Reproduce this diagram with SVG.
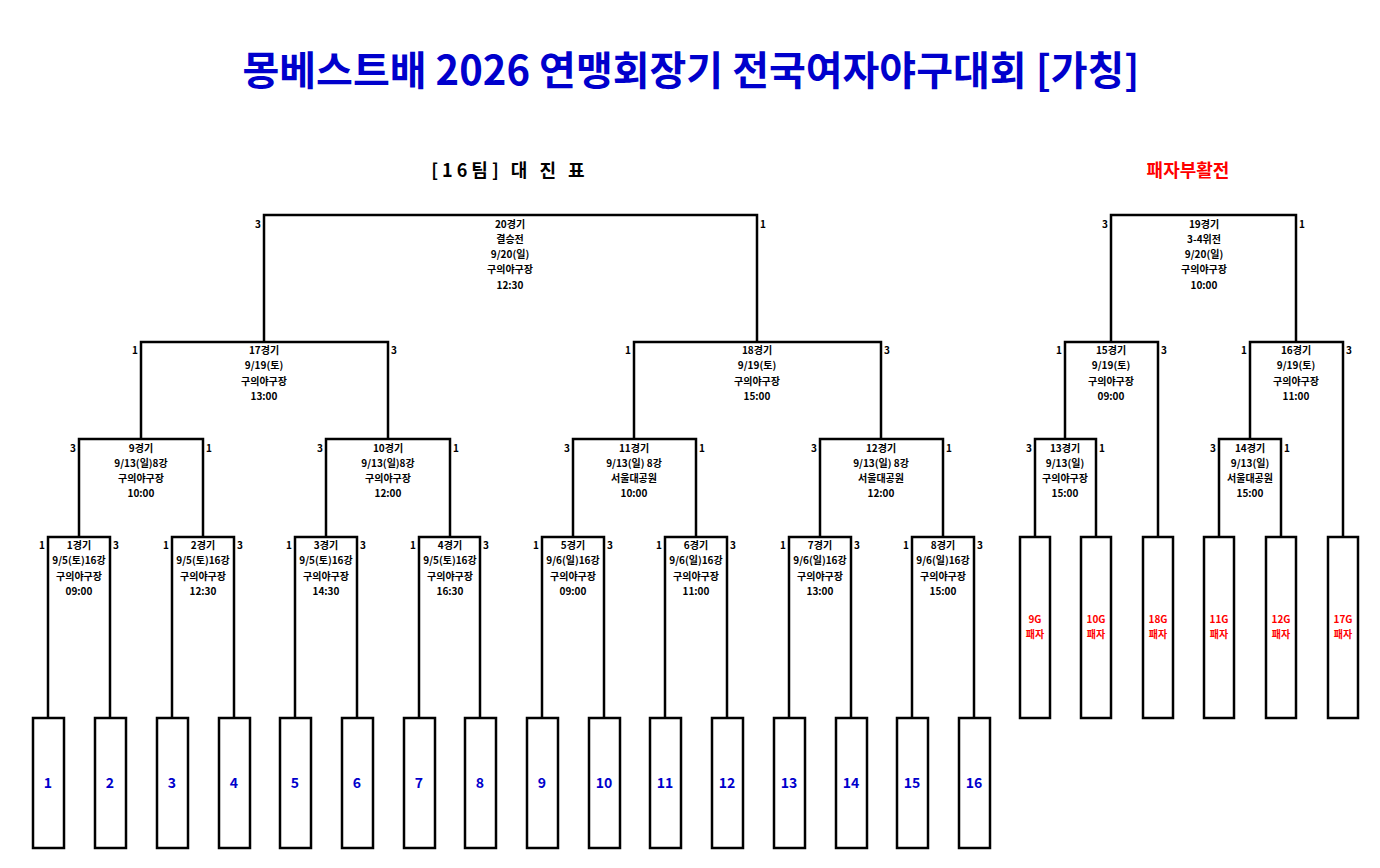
<svg xmlns="http://www.w3.org/2000/svg" width="1380" height="868" viewBox="0 0 1380 868">
<style>
text{font-family:"Noto Sans CJK KR","Noto Sans",sans-serif;font-weight:bold}
.m{font-size:10px;text-anchor:middle;fill:#000}
.s{font-size:10px;fill:#000}
.e{text-anchor:end}
.ln{fill:none;stroke:#000;stroke-width:2.5}
.bx{fill:#fff;stroke:#000;stroke-width:2.5}
.t{font-size:14px;fill:#0000cc;text-anchor:middle}
.r{font-size:10px;fill:#ff0000;text-anchor:middle}
</style>
<rect width="1380" height="868" fill="#fff"/>
<text x="691" y="85" font-size="40" font-weight="900" fill="#0000cc" text-anchor="middle">몽베스트배 2026 연맹회장기 전국여자야구대회 [가칭]</text>
<text x="510" y="177" font-size="18" text-anchor="middle" letter-spacing="4">[16팀] 대 진 표</text>
<text x="1188" y="177" font-size="18" fill="#ff0000" text-anchor="middle">패자부활전</text>
<g id="connectors" class="ln">
<path d="M48 718V537H110V718M172 718V537H234V718M295 718V537H357V718M419 718V537H480V718M542 718V537H604V718M665 718V537H727V718M789 718V537H851V718M912 718V537H974V718"/>
<path d="M79 537V439H203V537M326 537V439H450V537M573 537V439H696V537M820 537V439H943V537"/>
<path d="M141 439V342H388V439M634 439V342H881V439"/>
<path d="M264 342V215H757V342"/>
<path d="M1035 537V439H1096V537M1219 537V439H1281V537"/>
<path d="M1065 439V342H1158V537M1250 439V342H1343V537"/>
<path d="M1111 342V215H1296V342"/>
</g>
<g id="teams">
<rect class="bx" x="33" y="718" width="31" height="130"/><text class="t" x="48" y="788">1</text>
<rect class="bx" x="95" y="718" width="31" height="130"/><text class="t" x="110" y="788">2</text>
<rect class="bx" x="157" y="718" width="31" height="130"/><text class="t" x="172" y="788">3</text>
<rect class="bx" x="219" y="718" width="31" height="130"/><text class="t" x="234" y="788">4</text>
<rect class="bx" x="280" y="718" width="31" height="130"/><text class="t" x="295" y="788">5</text>
<rect class="bx" x="342" y="718" width="31" height="130"/><text class="t" x="357" y="788">6</text>
<rect class="bx" x="404" y="718" width="31" height="130"/><text class="t" x="419" y="788">7</text>
<rect class="bx" x="465" y="718" width="31" height="130"/><text class="t" x="480" y="788">8</text>
<rect class="bx" x="527" y="718" width="31" height="130"/><text class="t" x="542" y="788">9</text>
<rect class="bx" x="589" y="718" width="31" height="130"/><text class="t" x="604" y="788">10</text>
<rect class="bx" x="650" y="718" width="31" height="130"/><text class="t" x="665" y="788">11</text>
<rect class="bx" x="712" y="718" width="31" height="130"/><text class="t" x="727" y="788">12</text>
<rect class="bx" x="774" y="718" width="31" height="130"/><text class="t" x="789" y="788">13</text>
<rect class="bx" x="836" y="718" width="31" height="130"/><text class="t" x="851" y="788">14</text>
<rect class="bx" x="897" y="718" width="31" height="130"/><text class="t" x="912" y="788">15</text>
<rect class="bx" x="959" y="718" width="31" height="130"/><text class="t" x="974" y="788">16</text>
</g>
<g id="losers">
<rect class="bx" x="1020" y="537" width="30" height="181"/><text class="r" x="1035" y="623">9G</text><text class="r" x="1035" y="638">패자</text>
<rect class="bx" x="1081" y="537" width="30" height="181"/><text class="r" x="1096" y="623">10G</text><text class="r" x="1096" y="638">패자</text>
<rect class="bx" x="1143" y="537" width="30" height="181"/><text class="r" x="1158" y="623">18G</text><text class="r" x="1158" y="638">패자</text>
<rect class="bx" x="1204" y="537" width="30" height="181"/><text class="r" x="1219" y="623">11G</text><text class="r" x="1219" y="638">패자</text>
<rect class="bx" x="1266" y="537" width="30" height="181"/><text class="r" x="1281" y="623">12G</text><text class="r" x="1281" y="638">패자</text>
<rect class="bx" x="1328" y="537" width="30" height="181"/><text class="r" x="1343" y="623">17G</text><text class="r" x="1343" y="638">패자</text>
</g>
<g id="m1"><text class="s e" x="45" y="549">1</text><text class="s" x="113" y="549">3</text><text class="m" x="79" y="549">1경기</text><text class="m" x="79" y="564">9/5(토)16강</text><text class="m" x="79" y="580">구의야구장</text><text class="m" x="79" y="595">09:00</text></g>
<g id="m2"><text class="s e" x="169" y="549">1</text><text class="s" x="237" y="549">3</text><text class="m" x="203" y="549">2경기</text><text class="m" x="203" y="564">9/5(토)16강</text><text class="m" x="203" y="580">구의야구장</text><text class="m" x="203" y="595">12:30</text></g>
<g id="m3"><text class="s e" x="292" y="549">1</text><text class="s" x="360" y="549">3</text><text class="m" x="326" y="549">3경기</text><text class="m" x="326" y="564">9/5(토)16강</text><text class="m" x="326" y="580">구의야구장</text><text class="m" x="326" y="595">14:30</text></g>
<g id="m4"><text class="s e" x="416" y="549">1</text><text class="s" x="483" y="549">3</text><text class="m" x="450" y="549">4경기</text><text class="m" x="450" y="564">9/5(토)16강</text><text class="m" x="450" y="580">구의야구장</text><text class="m" x="450" y="595">16:30</text></g>
<g id="m5"><text class="s e" x="539" y="549">1</text><text class="s" x="607" y="549">3</text><text class="m" x="573" y="549">5경기</text><text class="m" x="573" y="564">9/6(일)16강</text><text class="m" x="573" y="580">구의야구장</text><text class="m" x="573" y="595">09:00</text></g>
<g id="m6"><text class="s e" x="662" y="549">1</text><text class="s" x="730" y="549">3</text><text class="m" x="696" y="549">6경기</text><text class="m" x="696" y="564">9/6(일)16강</text><text class="m" x="696" y="580">구의야구장</text><text class="m" x="696" y="595">11:00</text></g>
<g id="m7"><text class="s e" x="786" y="549">1</text><text class="s" x="854" y="549">3</text><text class="m" x="820" y="549">7경기</text><text class="m" x="820" y="564">9/6(일)16강</text><text class="m" x="820" y="580">구의야구장</text><text class="m" x="820" y="595">13:00</text></g>
<g id="m8"><text class="s e" x="909" y="549">1</text><text class="s" x="977" y="549">3</text><text class="m" x="943" y="549">8경기</text><text class="m" x="943" y="564">9/6(일)16강</text><text class="m" x="943" y="580">구의야구장</text><text class="m" x="943" y="595">15:00</text></g>
<g id="m9"><text class="s e" x="76" y="452">3</text><text class="s" x="206" y="452">1</text><text class="m" x="141" y="452">9경기</text><text class="m" x="141" y="467">9/13(일)8강</text><text class="m" x="141" y="482">구의야구장</text><text class="m" x="141" y="497">10:00</text></g>
<g id="m10"><text class="s e" x="323" y="452">3</text><text class="s" x="453" y="452">1</text><text class="m" x="388" y="452">10경기</text><text class="m" x="388" y="467">9/13(일)8강</text><text class="m" x="388" y="482">구의야구장</text><text class="m" x="388" y="497">12:00</text></g>
<g id="m11"><text class="s e" x="570" y="452">3</text><text class="s" x="699" y="452">1</text><text class="m" x="634" y="452">11경기</text><text class="m" x="634" y="467">9/13(일) 8강</text><text class="m" x="634" y="482">서울대공원</text><text class="m" x="634" y="497">10:00</text></g>
<g id="m12"><text class="s e" x="817" y="452">3</text><text class="s" x="946" y="452">1</text><text class="m" x="881" y="452">12경기</text><text class="m" x="881" y="467">9/13(일) 8강</text><text class="m" x="881" y="482">서울대공원</text><text class="m" x="881" y="497">12:00</text></g>
<g id="m17"><text class="s e" x="138" y="354">1</text><text class="s" x="391" y="354">3</text><text class="m" x="264" y="354">17경기</text><text class="m" x="264" y="369">9/19(토)</text><text class="m" x="264" y="385">구의야구장</text><text class="m" x="264" y="400">13:00</text></g>
<g id="m18"><text class="s e" x="631" y="354">1</text><text class="s" x="884" y="354">3</text><text class="m" x="757" y="354">18경기</text><text class="m" x="757" y="369">9/19(토)</text><text class="m" x="757" y="385">구의야구장</text><text class="m" x="757" y="400">15:00</text></g>
<g id="m20"><text class="s e" x="261" y="228">3</text><text class="s" x="760" y="228">1</text><text class="m" x="510" y="228">20경기</text><text class="m" x="510" y="243">결승전</text><text class="m" x="510" y="258">9/20(일)</text><text class="m" x="510" y="273">구의야구장</text><text class="m" x="510" y="289">12:30</text></g>
<g id="m13"><text class="s e" x="1032" y="452">3</text><text class="s" x="1099" y="452">1</text><text class="m" x="1065" y="452">13경기</text><text class="m" x="1065" y="467">9/13(일)</text><text class="m" x="1065" y="482">구의야구장</text><text class="m" x="1065" y="497">15:00</text></g>
<g id="m14"><text class="s e" x="1216" y="452">3</text><text class="s" x="1284" y="452">1</text><text class="m" x="1250" y="452">14경기</text><text class="m" x="1250" y="467">9/13(일)</text><text class="m" x="1250" y="482">서울대공원</text><text class="m" x="1250" y="497">15:00</text></g>
<g id="m15"><text class="s e" x="1062" y="354">1</text><text class="s" x="1161" y="354">3</text><text class="m" x="1111" y="354">15경기</text><text class="m" x="1111" y="369">9/19(토)</text><text class="m" x="1111" y="385">구의야구장</text><text class="m" x="1111" y="400">09:00</text></g>
<g id="m16"><text class="s e" x="1247" y="354">1</text><text class="s" x="1346" y="354">3</text><text class="m" x="1296" y="354">16경기</text><text class="m" x="1296" y="369">9/19(토)</text><text class="m" x="1296" y="385">구의야구장</text><text class="m" x="1296" y="400">11:00</text></g>
<g id="m19"><text class="s e" x="1108" y="228">3</text><text class="s" x="1299" y="228">1</text><text class="m" x="1204" y="228">19경기</text><text class="m" x="1204" y="243">3-4위전</text><text class="m" x="1204" y="258">9/20(일)</text><text class="m" x="1204" y="273">구의야구장</text><text class="m" x="1204" y="289">10:00</text></g>
</svg>
